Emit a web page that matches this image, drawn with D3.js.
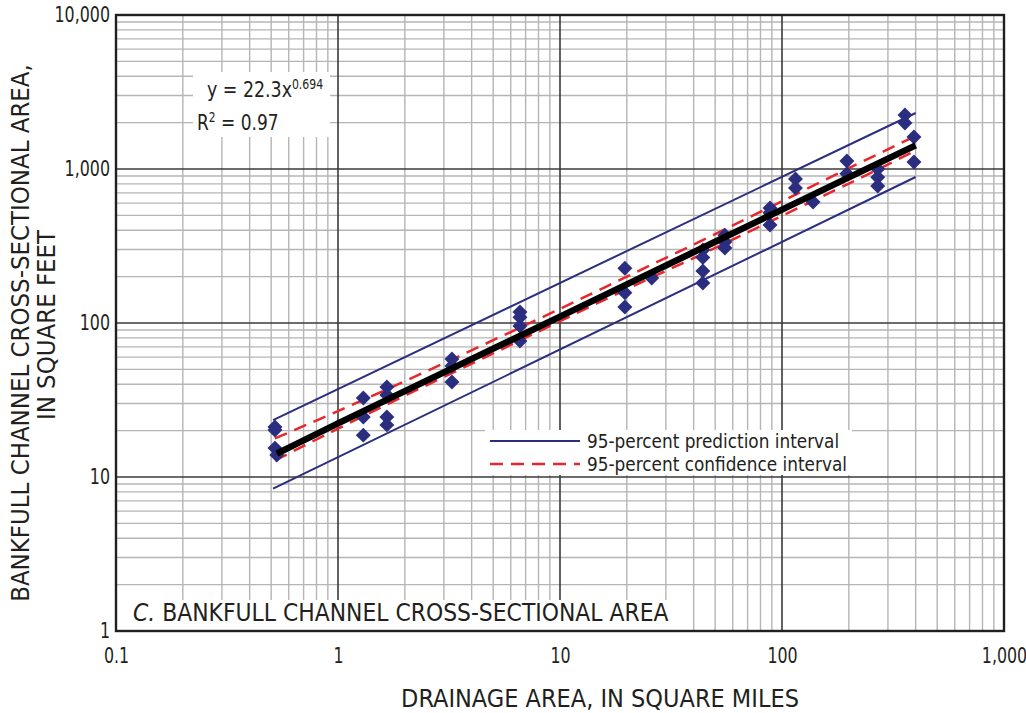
<!DOCTYPE html>
<html>
<head>
<meta charset="utf-8">
<script src="https://cdn.jsdelivr.net/npm/d3@7"></script>
<style>
  body { margin: 0; background: #fff; }
  svg text { font-family: "Liberation Sans Narrow", "DejaVu Sans Condensed", "Arial Narrow", sans-serif; fill: #231f20; }
</style>
</head>
<body>
<div id="chart"></div>
<script>
// chart data
const siteArea = [0.52, 0.52, 0.52, 0.53, 1.3, 1.3, 1.3, 1.66, 1.66, 1.66, 1.66,
  3.26, 3.26, 3.26, 6.6, 6.6, 6.6, 6.6, 19.6, 19.6, 19.6, 25.9,
  44, 44, 44, 44, 55.3, 55.3, 55.3, 88.3, 88.3, 88.3, 115, 115, 138,
  196, 196, 270, 270, 270, 358, 358, 393, 393]
const siteXsec = [21.1, 20.2, 15.4, 13.9, 32.6, 24.5, 18.7, 38.4, 34.1, 24.5, 21.8,
  58.4, 52.5, 41.4, 118, 109, 95.6, 76.4, 227, 157, 127, 196,
  298, 266, 218, 182, 372, 336, 307, 558, 520, 433, 861, 753, 611,
  1127, 930, 1000, 885, 776, 2242, 1990, 1614, 1110]

// regression y = 22.3x^0.694
const fitX = [0.53, 1, 2, 5, 10, 20, 50, 100, 200, 400]
const fitY = [14.2, 22.3, 36.1, 68.1, 110, 178, 337, 545, 882, 1425]

// 95-percent confidence interval
const ciX = [0.52, 1, 2, 5, 10, 20, 50, 100, 200, 400]
const ciUpper = [17.8, 26.8, 41.9, 77.3, 123.6, 200, 378, 618, 1012, 1637]
const ciLower = [12.8, 20.6, 33.7, 63.5, 102.8, 166, 307, 497, 804, 1315]

// 95-percent prediction interval
const piX = [0.51, 400]
const piUpper = [23.4, 2310]
const piLower = [8.4, 887]

const xTicks = [0.1, 1, 10, 100, 1000]
const xTickLabels = ["0.1", "1", "10", "100", "1,000"]
const yTicks = [1, 10, 100, 1000, 10000]
const yTickLabels = ["1", "10", "100", "1,000", "10,000"]

// layout
const width = 1026
const height = 713
const plotLeft = 116, plotRight = 1004, plotTop = 15, plotBottom = 631
const navy = "#2b2e7f"
const red = "#e8262b"

const x = d3.scaleLog().domain([0.1, 1000]).range([plotLeft, plotRight])
const y = d3.scaleLog().domain([1, 10000]).range([plotBottom, plotTop])

const svg = d3.select("#chart").append("svg")
    .attr("width", width)
    .attr("height", height)

// squeeze a text horizontally (the source face is a condensed one)
function label(px, py, size, sx, rot){
    return svg.append("text")
        .attr("transform", "translate(" + px + "," + py + ")" + (rot ? " rotate(" + rot + ")" : "") + " scale(" + sx + ",1)")
        .attr("font-size", size)
}

// grid
const grid = svg.append("g")
function gridValues(lo, hi){
    var out = []
    for (var p = Math.log10(lo); p < Math.log10(hi); p++){
        for (var m = 2; m <= 9; m++) out.push(m * Math.pow(10, p))
    }
    return out
}
grid.selectAll(".vminor").data(gridValues(0.1, 1000)).enter().append("line")
    .attr("x1", d => x(d)).attr("x2", d => x(d))
    .attr("y1", plotTop).attr("y2", plotBottom)
    .attr("stroke", "#b5b5b5").attr("stroke-width", 1.4)
grid.selectAll(".hminor").data(gridValues(1, 10000)).enter().append("line")
    .attr("y1", d => y(d)).attr("y2", d => y(d))
    .attr("x1", plotLeft).attr("x2", plotRight)
    .attr("stroke", "#b5b5b5").attr("stroke-width", 1.4)
grid.selectAll(".vmajor").data(xTicks).enter().append("line")
    .attr("x1", d => x(d)).attr("x2", d => x(d))
    .attr("y1", plotTop).attr("y2", plotBottom)
    .attr("stroke", "#3a3a3a").attr("stroke-width", 1.6)
grid.selectAll(".hmajor").data(yTicks).enter().append("line")
    .attr("y1", d => y(d)).attr("y2", d => y(d))
    .attr("x1", plotLeft).attr("x2", plotRight)
    .attr("stroke", "#3a3a3a").attr("stroke-width", 1.6)

// white boxes
svg.append("rect").attr("x", 193).attr("y", 72).attr("width", 137).attr("height", 65).attr("fill", "#fff")
svg.append("rect").attr("x", 485).attr("y", 430).attr("width", 367).attr("height", 45).attr("fill", "#fff")
svg.append("rect").attr("x", plotLeft + 1).attr("y", 600).attr("width", 557).attr("height", 30).attr("fill", "#fff")

// interval lines
const line = d3.line().x(d => x(d[0])).y(d => y(d[1]))
svg.append("path").datum(d3.zip(piX, piUpper))
    .attr("d", line).attr("fill", "none").attr("stroke", navy).attr("stroke-width", 2)
svg.append("path").datum(d3.zip(piX, piLower))
    .attr("d", line).attr("fill", "none").attr("stroke", navy).attr("stroke-width", 2)
const curved = d3.line().x(d => x(d[0])).y(d => y(d[1])).curve(d3.curveMonotoneX)
svg.append("path").datum(d3.zip(ciX, ciUpper))
    .attr("d", curved).attr("fill", "none").attr("stroke", red)
    .attr("stroke-width", 2.5).attr("stroke-dasharray", "13,8")
svg.append("path").datum(d3.zip(ciX, ciLower))
    .attr("d", curved).attr("fill", "none").attr("stroke", red)
    .attr("stroke-width", 2.5).attr("stroke-dasharray", "13,8")

// sites
svg.selectAll(".site").data(d3.zip(siteArea, siteXsec)).enter().append("path")
    .attr("d", d3.symbol(d3.symbolSquare, 112))
    .attr("transform", d => "translate(" + x(d[0]) + "," + y(d[1]) + ") rotate(45)")
    .attr("fill", navy)

// regression line
svg.append("path").datum(d3.zip(fitX, fitY))
    .attr("d", line).attr("fill", "none").attr("stroke", "#000").attr("stroke-width", 6.5)

// frame
svg.append("rect").attr("x", plotLeft).attr("y", plotTop)
    .attr("width", plotRight - plotLeft).attr("height", plotBottom - plotTop)
    .attr("fill", "none").attr("stroke", "#231f20").attr("stroke-width", 2.4)

// axes (labels only)
svg.append("g").attr("transform", "translate(0," + plotBottom + ")")
    .call(d3.axisBottom(x).tickValues(xTicks).tickSize(0).tickPadding(17)
        .tickFormat((d, i) => xTickLabels[i]))
svg.append("g").attr("transform", "translate(" + (plotLeft - 6) + ",0)")
    .call(d3.axisLeft(y).tickValues(yTicks).tickSize(0).tickPadding(0)
        .tickFormat((d, i) => yTickLabels[i]))
svg.selectAll(".domain").remove()
svg.selectAll(".tick text").attr("font-size", 21).attr("fill", "#231f20")
    .attr("transform", "scale(0.84,1)")
    .attr("font-family", "Liberation Sans Narrow, DejaVu Sans Condensed, sans-serif")

// axis titles
label(600, 707, 25, 1, 0).attr("text-anchor", "middle")
    .text("DRAINAGE AREA, IN SQUARE MILES")
label(29, 333, 25.5, 1, -90).attr("text-anchor", "middle")
    .text("BANKFULL CHANNEL CROSS-SECTIONAL AREA,")
label(55, 325, 25.5, 1, -90).attr("text-anchor", "middle")
    .text("IN SQUARE FEET")

// equation
const eq = label(207, 97, 21.5, 0.9, 0)
eq.append("tspan").text("y = 22.3x")
eq.append("tspan").attr("font-size", 13.5).attr("dy", -8).text("0.694")
const r2 = label(197, 130, 21.5, 0.88, 0)
r2.append("tspan").text("R")
r2.append("tspan").attr("font-size", 13.5).attr("dy", -8).text("2")
r2.append("tspan").attr("dy", 8).text(" = 0.97")

// legend
svg.append("line").attr("x1", 490).attr("x2", 580).attr("y1", 441).attr("y2", 441)
    .attr("stroke", navy).attr("stroke-width", 2)
svg.append("line").attr("x1", 490).attr("x2", 580).attr("y1", 464).attr("y2", 464)
    .attr("stroke", red).attr("stroke-width", 2.5).attr("stroke-dasharray", "13,8")
label(587, 448, 20, 0.94, 0).text("95-percent prediction interval")
label(587, 471, 20, 0.94, 0).text("95-percent confidence interval")

// panel label
const lab = label(133, 621, 25.5, 0.955, 0)
lab.append("tspan").attr("font-style", "italic").text("C.")
lab.append("tspan").text(" BANKFULL CHANNEL CROSS-SECTIONAL AREA")
</script>
</body>
</html>
